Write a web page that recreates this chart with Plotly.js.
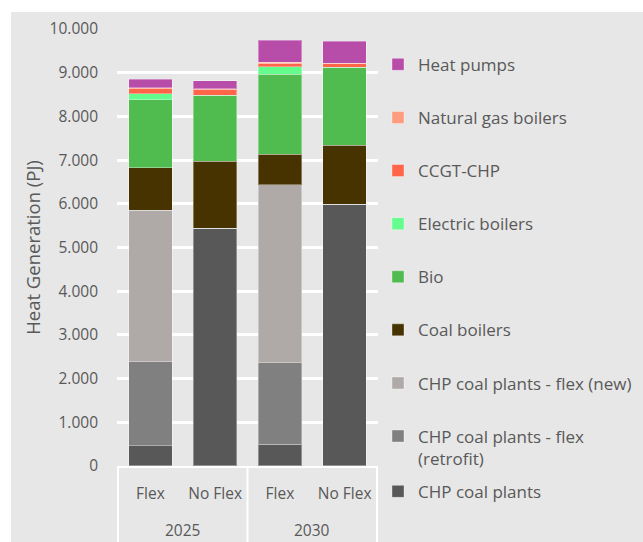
<!DOCTYPE html>
<html>
<head>
<meta charset="utf-8">
<script src="https://cdn.plot.ly/plotly-3.0.1.min.js"></script>
<style>
  html, body { margin: 0; padding: 0; background: #ffffff; }
  #chart { position: absolute; left: 11px; top: 12px; width: 632px; height: 530px; }
</style>
</head>
<body>
<div id="chart"></div>
<script>
// Categories (two-level x axis)
const years = ["2025", "2025", "2030", "2030"];
const scenarios = ["Flex", "No Flex", "Flex", "No Flex"];

// Series values (PJ), bottom to top of stack
const chpCoalPlants = [458, 5446, 497, 5995];
const chpFlexRetrofit = [1930, 0, 1867, 0];
const chpFlexNew = [3470, 0, 4073, 0];
const coalBoilers = [970, 1530, 700, 1350];
const bio = [1550, 1510, 1830, 1777];
const electricBoilers = [135, 0, 170, 0];
const ccgtChp = [120, 130, 80, 80];
const naturalGasBoilers = [20, 20, 25, 20];
const heatPumps = [200, 185, 500, 500];

const seriesNames = [
  "CHP coal plants",
  "CHP coal plants - flex<br>(retrofit)",
  "CHP coal plants - flex (new)",
  "Coal boilers",
  "Bio",
  "Electric boilers",
  "CCGT-CHP",
  "Natural gas boilers",
  "Heat pumps"
];
const seriesValues = [chpCoalPlants, chpFlexRetrofit, chpFlexNew, coalBoilers, bio,
  electricBoilers, ccgtChp, naturalGasBoilers, heatPumps];
const seriesColors = ["#585858", "#808080", "#afaaa8", "#463300", "#50bc50",
  "#63fd8e", "#ff6549", "#fd9c7e", "#b84ca9"];

const yTicks = [0, 1000, 2000, 3000, 4000, 5000, 6000, 7000, 8000, 9000, 10000];

// unique category keys for the x axis, labelled with the scenario names
const catKeys = years.map((y, i) => y + " " + scenarios[i]);

const traces = seriesNames.map((name, i) => ({
  type: "bar",
  name: name,
  x: catKeys,
  y: seriesValues[i],
  legend: i === 0 ? "legend2" : "legend",
  legendgroup: "g" + i,
  legendrank: seriesNames.length - i,
  marker: { color: seriesColors[i], line: { color: "rgba(255,255,255,0.35)", width: 1 } },
  hoverinfo: "name+y"
}));

// year group labels and dividers
const yearGroups = [];
years.forEach((y, i) => {
  const g = yearGroups.find(o => o.year === y);
  if (g) { g.last = i; } else { yearGroups.push({ year: y, first: i, last: i }); }
});
const annotations = yearGroups.map(g => ({
  x: (g.first + g.last) / 2, xref: "x",
  y: -0.016, yref: "paper", yanchor: "middle",
  text: g.year, showarrow: false,
  font: { size: 15.5, color: "#595959" }
}));
const dividerXs = [-0.5].concat(yearGroups.map(g => g.last + 0.5));
const shapes = dividerXs.map(x => ({
  type: "line", xref: "x", yref: "paper",
  x0: x, x1: x, y0: 0.1109, y1: -0.05,
  line: { color: "#ffffff", width: 2 }
}));

const font = "'Open Sans', Lato, sans-serif";
const legendCommon = {
  x: 1.0, xanchor: "left", yanchor: "top",
  traceorder: "grouped",
  tracegroupgap: 28,
  valign: "top",
  font: { size: 17, color: "#595959" },
  bgcolor: "rgba(0,0,0,0)"
};
const layout = {
  barmode: "stack",
  bargap: 0.33,
  separators: ",.",
  paper_bgcolor: "#e7e7e7",
  plot_bgcolor: "rgba(0,0,0,0)",
  margin: { l: 106, r: 265, t: 5, b: 20 },
  font: { family: font, color: "#595959", size: 15 },
  showlegend: true,
  legend: Object.assign({}, legendCommon, { y: 0.941 }),
  legend2: Object.assign({}, legendCommon, { y: 0.0954 }),
  annotations: annotations,
  shapes: shapes,
  xaxis: {
    type: "category",
    tickvals: catKeys,
    ticktext: scenarios,
    showgrid: false,
    showline: true,
    linecolor: "#ffffff",
    linewidth: 2,
    ticks: "",
    ticklabelstandoff: 12,
    tickfont: { size: 15.5, color: "#595959" }
  },
  yaxis: {
    domain: [0.1109, 0.9762],
    range: [0, 10000],
    tickvals: yTicks,
    tickformat: ",d",
    showgrid: true,
    gridcolor: "#ffffff",
    gridwidth: 3,
    zeroline: false,
    ticks: "",
    ticklabelstandoff: 18,
    tickfont: { size: 15.5, color: "#595959" },
    title: { text: "Heat Generation (PJ)", font: { size: 18.5, color: "#595959" }, standoff: 4 }
  }
};

Plotly.newPlot("chart", traces, layout, { displayModeBar: false });
</script>
</body>
</html>
